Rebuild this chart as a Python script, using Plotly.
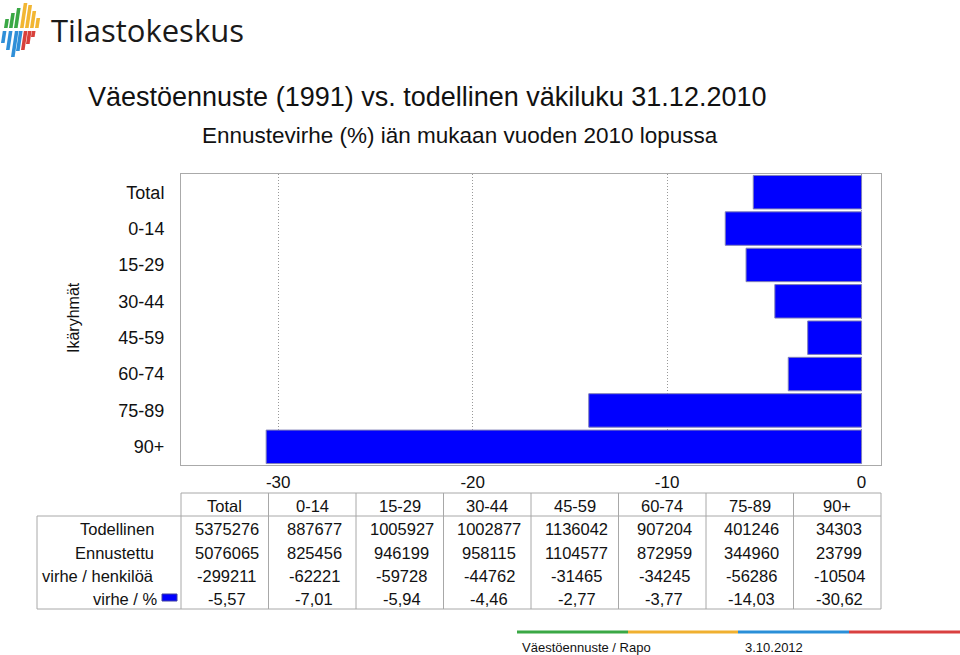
import plotly.graph_objects as go

# ---- data ----
groups = ["Total", "0-14", "15-29", "30-44", "45-59", "60-74", "75-89", "90+"]
todellinen = [5375276, 887677, 1005927, 1002877, 1136042, 907204, 401246, 34303]
ennustettu = [5076065, 825456, 946199, 958115, 1104577, 872959, 344960, 23799]
virhe_hlo = [-299211, -62221, -59728, -44762, -31465, -34245, -56286, -10504]
virhe_pct = [-5.57, -7.01, -5.94, -4.46, -2.77, -3.77, -14.03, -30.62]
row_labels = ["Todellinen", "Ennustettu", "virhe / henkilöä", "virhe / %"]
x_ticks = [-30, -20, -10, 0]

W, H = 960, 655
L, R, T, B = 181, 79, 174, 190
PW, PH = W - L - R, H - T - B

def px(x):
    return (x - L) / PW

def py(y):
    return (H - B - y) / PH

FONT = "Liberation Sans, Arial, Helvetica, sans-serif"
TXT = "#111111"
GRID = "#a8a8a8"

fig = go.Figure()
fig.add_trace(go.Bar(
    y=groups, x=virhe_pct, orientation="h",
    marker=dict(color="#0000ff", line=dict(color="#8080b8", width=1)),
    hoverinfo="x+y", showlegend=False,
))

shapes = []
annotations = []

# ---- titles ----
annotations.append(dict(text="Väestöennuste (1991) vs. todellinen väkiluku 31.12.2010",
                        x=px(427), y=py(97), xref="paper", yref="paper",
                        xanchor="center", yanchor="middle", showarrow=False,
                        font=dict(family=FONT, size=27, color=TXT)))
annotations.append(dict(text="Ennustevirhe (%) iän mukaan vuoden 2010 lopussa",
                        x=px(460), y=py(135), xref="paper", yref="paper",
                        xanchor="center", yanchor="middle", showarrow=False,
                        font=dict(family=FONT, size=22.5, color=TXT)))
annotations.append(dict(text="Ikäryhmät", textangle=-90,
                        x=px(73), y=py(318), xref="paper", yref="paper",
                        xanchor="center", yanchor="middle", showarrow=False,
                        font=dict(family=FONT, size=16, color=TXT)))

# ---- logo ----
def stripe(x0, ytop, ybot, w, color, slant=0.15):
    # parallelogram leaning right
    dx = slant * (ybot - ytop)
    path = (f"M {px(x0)} {py(ybot)} L {px(x0 + w)} {py(ybot)} "
            f"L {px(x0 + w + dx)} {py(ytop)} L {px(x0 + dx)} {py(ytop)} Z")
    shapes.append(dict(type="path", path=path, xref="paper", yref="paper",
                       fillcolor=color, line=dict(width=0), layer="above"))

GREEN, YELLOW, BLUE, RED = "#3aa845", "#f2b632", "#2f8fd8", "#d8413b"
top_row = [(4, 19, GREEN), (9, 13, GREEN), (14, 8, GREEN), (20, 3, YELLOW),
           (25, 5, YELLOW), (30, 11, YELLOW), (35, 18, YELLOW)]
for x0, yt, c in top_row:
    stripe(x0, yt, 28, 3.6, c)
bot_row = [(1, 43, BLUE), (6, 50, BLUE), (11, 57, BLUE), (16, 51, BLUE),
           (21, 50, RED), (26, 44, RED), (31, 37, RED)]
for x0, yb, c in bot_row:
    stripe(x0, 31, yb, 3.6, c)
annotations.append(dict(text="Tilastokeskus", x=px(49), y=py(30), xref="paper", yref="paper",
                        xanchor="left", yanchor="middle", showarrow=False,
                        font=dict(family="Open Sans, sans-serif", size=31, color="#1a1a1a")))

# ---- table ----
col_w = PW / len(groups)
col_x = [L + col_w * i for i in range(len(groups) + 1)]
y_head_top, y_head_bot, y_bot = 493, 516, 609
tbl_left = 37

def hline(y, x0, x1):
    shapes.append(dict(type="line", xref="paper", yref="paper",
                       x0=px(x0), x1=px(x1), y0=py(y), y1=py(y),
                       line=dict(color=GRID, width=1)))

def vline(x, y0, y1):
    shapes.append(dict(type="line", xref="paper", yref="paper",
                       x0=px(x), x1=px(x), y0=py(y0), y1=py(y1),
                       line=dict(color=GRID, width=1)))

hline(y_head_top, L, W - R)
hline(y_head_bot, tbl_left, W - R)
hline(y_bot, tbl_left, W - R)
vline(tbl_left, y_head_bot, y_bot)
for cx in col_x:
    vline(cx, y_head_top, y_bot)

head_y = 506
row_y = [529, 553, 576, 599]
TS = 16.5

def fmt_pct(v):
    return f"{v:.2f}".replace(".", ",")

rows = [[str(v) for v in todellinen], [str(v) for v in ennustettu],
        [str(v) for v in virhe_hlo], [fmt_pct(v) for v in virhe_pct]]

for i, g in enumerate(groups):
    annotations.append(dict(text=g, x=px(col_x[i] + col_w / 2), y=py(head_y),
                            xref="paper", yref="paper", xanchor="center", yanchor="middle",
                            showarrow=False, font=dict(family=FONT, size=TS, color=TXT)))
for r, (lab, vals) in enumerate(zip(row_labels, rows)):
    annotations.append(dict(text=lab, x=px(156 if r < 3 else 160), y=py(row_y[r]),
                            xref="paper", yref="paper", xanchor="right", yanchor="middle",
                            showarrow=False, font=dict(family=FONT, size=TS, color=TXT)))
    for i, v in enumerate(vals):
        annotations.append(dict(text=v, x=px(col_x[i] + col_w / 2 + 2), y=py(row_y[r]),
                                xref="paper", yref="paper", xanchor="center", yanchor="middle",
                                showarrow=False, font=dict(family=FONT, size=TS, color=TXT)))
# legend key
shapes.append(dict(type="rect", xref="paper", yref="paper",
                   x0=px(162), x1=px(177), y0=py(601), y1=py(594),
                   fillcolor="#0000ff", line=dict(color="#4040a0", width=1)))

# ---- footer ----
for (x0, x1, c) in [(517, 628, GREEN), (628, 738, "#f0b030"), (738, 849, "#2a8fd8"), (849, 960, "#d94040")]:
    shapes.append(dict(type="line", xref="paper", yref="paper",
                       x0=px(x0), x1=px(x1), y0=py(632), y1=py(632),
                       line=dict(color=c, width=3)))
annotations.append(dict(text="Väestöennuste / Rapo", x=px(520), y=py(647), xref="paper", yref="paper",
                        xanchor="left", yanchor="middle", showarrow=False,
                        font=dict(family=FONT, size=13, color=TXT)))
annotations.append(dict(text="3.10.2012", x=px(743), y=py(647), xref="paper", yref="paper",
                        xanchor="left", yanchor="middle", showarrow=False,
                        font=dict(family=FONT, size=13, color=TXT)))

fig.update_layout(
    width=W, height=H,
    margin=dict(l=L, r=R, t=T, b=B, pad=0),
    paper_bgcolor="white", plot_bgcolor="white",
    bargap=0.08,
    shapes=shapes, annotations=annotations,
    font=dict(family=FONT, color=TXT),
    xaxis=dict(range=[-35.0, 1.0], tickvals=x_ticks, ticktext=[str(t) for t in x_ticks],
               showgrid=True, gridcolor="#999999", griddash="1px,2px", gridwidth=1,
               zeroline=False, showline=True, linecolor="#aaaaaa", linewidth=1, mirror=True,
               ticks="", tickfont=dict(size=17, family=FONT, color=TXT), ticklabelstandoff=2),
    yaxis=dict(categoryorder="array", categoryarray=groups, autorange="reversed",
               showgrid=False, zeroline=False, showline=True, linecolor="#aaaaaa", linewidth=1,
               mirror=True, ticks="", tickfont=dict(size=18, family=FONT, color=TXT),
               ticklabelstandoff=12),
)

fig.write_html("out.html")
